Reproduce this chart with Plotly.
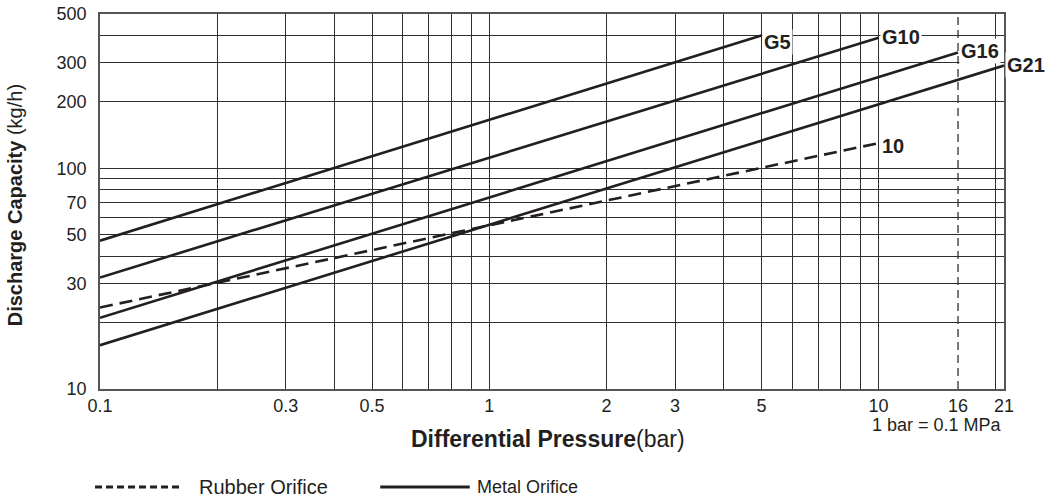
import numpy as np
import plotly.graph_objects as go

# ---- axis ranges & ticks ----
pressure_range = [0.1, 21]
capacity_range = [10, 500]
pressure_limit = 16

x_tick_vals = [0.1, 0.3, 0.5, 1, 2, 3, 5, 10, 16, 21]
x_tick_text = ["0.1", "0.3", "0.5", "1", "2", "3", "5", "10", "16", "21"]
x_grid_vals = [0.2, 0.3, 0.4, 0.5, 0.6, 0.7, 0.8, 0.9, 1, 2, 3, 4, 5, 6, 7, 8, 9, 10, 20]
y_tick_vals = [10, 30, 50, 70, 100, 200, 300, 500]
y_tick_text = ["10", "30", "50", "70", "100", "200", "300", "500"]
y_grid_vals = [20, 30, 40, 50, 60, 70, 80, 90, 100, 200, 300, 400]

# ---- series ----
g5_x = [0.1, 5]
g5_y = [47, 400]
g10_x = [0.1, 10]
g10_y = [32, 390]
g16_x = [0.1, 16]
g16_y = [21, 335]
g21_x = [0.1, 21]
g21_y = [15.8, 292]
rubber_x = [0.1, 10]
rubber_y = [23.4, 130]

series_names = ["G5", "G10", "G16", "G21", "10"]
series_x = [g5_x, g10_x, g16_x, g21_x, rubber_x]
series_y = [g5_y, g10_y, g16_y, g21_y, rubber_y]
series_dashed = [False, False, False, False, True]

# label offsets (style only)
label_yshift = {"G5": -7, "G10": 1, "G16": 1, "G21": 1, "10": -3}

INK = "#231f20"
GRID = "#2e2e2e"
FONT = "Liberation Sans, Arial, sans-serif"

fig = go.Figure()
for name, xs, ys, dashed in zip(series_names, series_x, series_y, series_dashed):
    fig.add_trace(go.Scatter(x=xs, y=ys, mode="lines", name=name, showlegend=False,
                             line=dict(color=INK, width=2.6, dash="13px,7px" if dashed else "solid")))
    fig.add_annotation(x=np.log10(xs[-1]), y=np.log10(ys[-1]), xref="x", yref="y",
                       text=f"<b>{name}</b>", showarrow=False, xanchor="left", yanchor="middle",
                       xshift=1, yshift=label_yshift[name], bgcolor="white", borderpad=1,
                       font=dict(family=FONT, size=20, color=INK))

fig.add_shape(type="line", x0=pressure_limit, x1=pressure_limit, y0=0, y1=1, xref="x", yref="paper",
              line=dict(color=INK, width=1.2, dash="8px,5px"), layer="below")

axis_common = dict(type="log", ticks="", showgrid=False, zeroline=False, automargin=False,
                   showline=True, mirror=True, linecolor="#555555", linewidth=1.5,
                   tickmode="array", tickfont=dict(family=FONT, size=18, color=INK))

fig.update_xaxes(range=[np.log10(pressure_range[0]), np.log10(pressure_range[1])],
                 tickvals=x_tick_vals, ticktext=x_tick_text, ticklabelstandoff=0,
                 minor=dict(tickmode="array", tickvals=x_grid_vals, showgrid=True,
                            gridcolor=GRID, gridwidth=1.3, ticks=""), **axis_common)
fig.update_yaxes(range=[np.log10(capacity_range[0]), np.log10(capacity_range[1])],
                 tickvals=y_tick_vals, ticktext=y_tick_text, ticklabelstandoff=8,
                 minor=dict(tickmode="array", tickvals=y_grid_vals, showgrid=True,
                            gridcolor=GRID, gridwidth=1.3, ticks=""), **axis_common)

# axis titles
fig.add_annotation(x=-0.094, y=0.49, xref="paper", yref="paper", textangle=-90, showarrow=False,
                   xanchor="center", yanchor="middle",
                   text="<b>Discharge Capacity</b> (kg/h)",
                   font=dict(family=FONT, size=20, color=INK))
fig.add_annotation(x=0.496, y=-0.134, xref="paper", yref="paper", showarrow=False,
                   xanchor="center", yanchor="middle",
                   text="<b>Differential Pressure</b>(bar)",
                   font=dict(family=FONT, size=23, color=INK))
fig.add_annotation(x=1.0, y=-0.096, xref="paper", yref="paper", showarrow=False,
                   xanchor="right", yanchor="middle",
                   text="1 bar = 0.1 MPa", font=dict(family=FONT, size=18, color=INK))

# manual legend
leg_y = -0.261
fig.add_shape(type="line", xref="paper", yref="paper", x0=-0.0055, x1=0.0918, y0=leg_y, y1=leg_y,
              line=dict(color=INK, width=3, dash="7px,4px"))
fig.add_annotation(x=0.107, y=leg_y, xref="paper", yref="paper", showarrow=False,
                   xanchor="left", yanchor="middle",
                   text="Rubber Orifice", font=dict(family=FONT, size=20, color=INK))
fig.add_shape(type="line", xref="paper", yref="paper", x0=0.31, x1=0.409, y0=leg_y, y1=leg_y,
              line=dict(color=INK, width=3))
fig.add_annotation(x=0.415, y=leg_y, xref="paper", yref="paper", showarrow=False,
                   xanchor="left", yanchor="middle",
                   text="Metal Orifice", font=dict(family=FONT, size=18, color=INK))

fig.update_layout(width=1046, height=502, margin=dict(l=100, r=42, t=14, b=113),
                  plot_bgcolor="white", paper_bgcolor="white")

fig.write_html("out.html", config={"displayModeBar": False},
               post_script="document.body.style.margin='0px';")
